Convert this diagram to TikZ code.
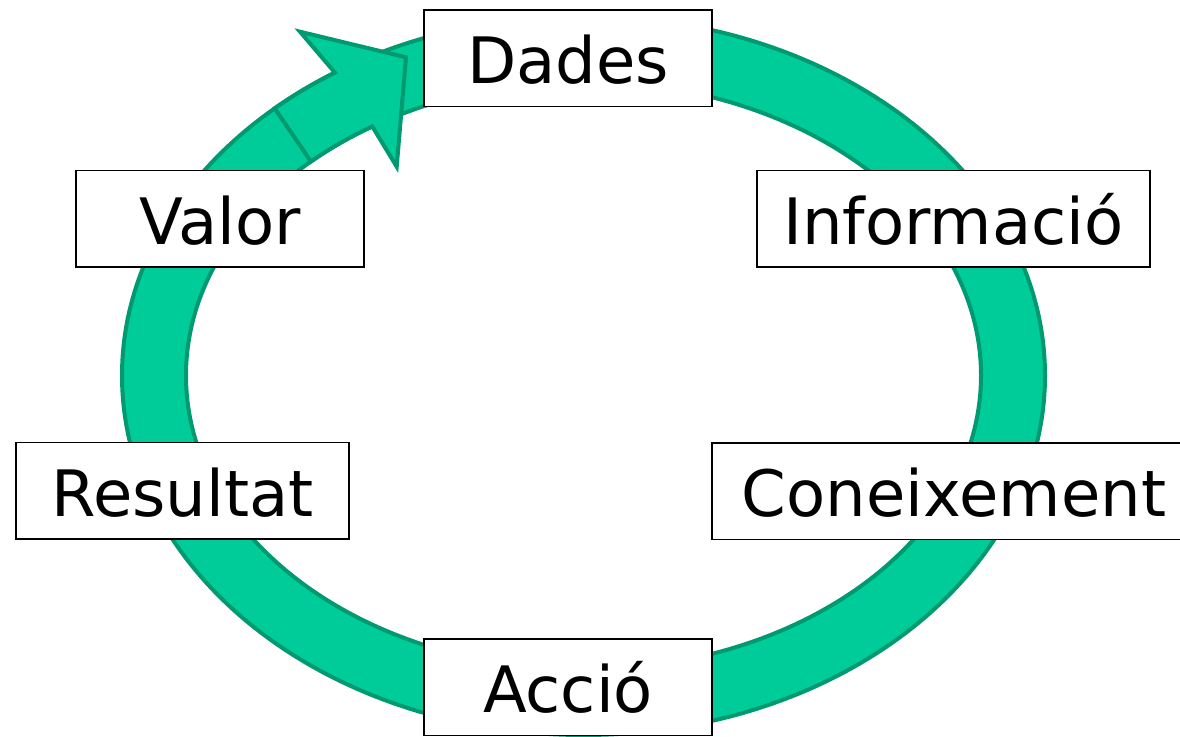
\documentclass[tikz,border=0pt]{standalone}
\usepackage{fontspec}
\setmainfont{DejaVu Sans}
\definecolor{ringfill}{RGB}{0,204,153}
\definecolor{ringline}{RGB}{0,153,112}
\begin{document}
\begin{tikzpicture}[x=1pt,y=-1pt,
  box/.style={draw=black, line width=1.5pt, fill=white, rectangle, inner sep=0pt,
    minimum height=96.5pt, font=\fontsize{64}{77}\selectfont, text height=51.2pt, text depth=0pt},
  band/.style={fill=ringfill, draw=ringline, line width=4pt, line join=miter}]
\useasboundingbox (0,0) rectangle (1180,736);
\clip (0,0) rectangle (1180,736);
\coordinate (C) at (583.5,375.5);
% ring
\fill[ringfill, even odd rule] (C) ellipse [x radius=461.5, y radius=359.5]
  (C) ellipse [x radius=397.5, y radius=294];
\draw[ringline, line width=4pt] (C) ellipse [x radius=461.5, y radius=359.5]
  (C) ellipse [x radius=397.5, y radius=294];
% arrow
\filldraw[band]
  plot[domain=-132:-122.6, samples=12] ({583.5+461.5*cos(\x)},{375.5+359.5*sin(\x)})
  -- (300,31.7) -- (406,57.3) -- (396.7,166.7)
  -- plot[domain=-122.1:-133.3, samples=12] ({583.5+397.5*cos(\x)},{375.5+294*sin(\x)})
  -- cycle;
% boxes
\node[box, minimum width=288pt] (dades) at (568,58.3) {Dades};
\node[box, minimum width=288pt] (valor) at (220,218.5) {Valor};
\node[box, minimum width=393pt] (info) at (953.5,218.5) {Informació};
\node[box, minimum width=333pt] (result) at (182.5,490.8) {Resultat};
\node[box, minimum width=484pt] (conei) at (954,491) {Coneixement};
\node[box, minimum width=288pt] (accio) at (568,687) {Acció};
\end{tikzpicture}
\end{document}
